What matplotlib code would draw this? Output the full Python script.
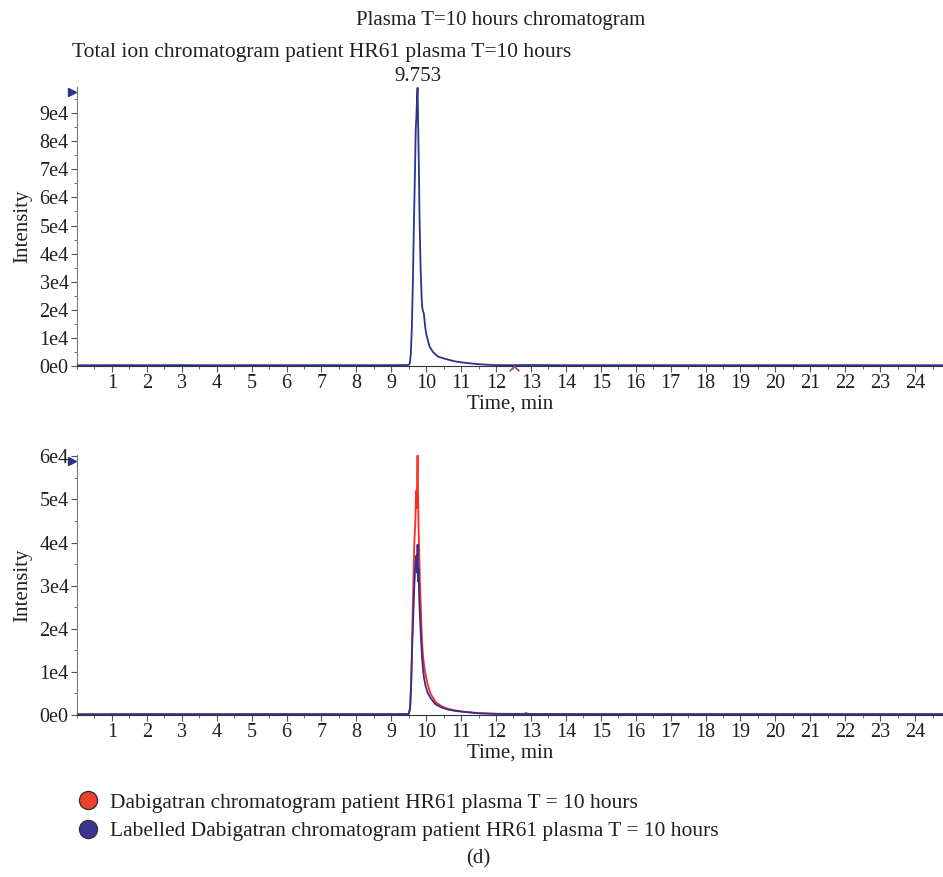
"""Plasma T=10 hours chromatogram, patient HR61 (panel d)."""

import matplotlib

matplotlib.use("Agg")

import matplotlib.pyplot as plt
from matplotlib.lines import Line2D
from matplotlib.path import Path
from matplotlib.ticker import FuncFormatter, MultipleLocator

# Total ion chromatogram (time in min, intensity in counts)
tic_time = [0.0, 1.0, 2.0, 3.0, 4.0, 5.0, 6.0, 7.0, 8.0, 9.0, 9.50, 9.53,
            9.56, 9.59, 9.62, 9.65, 9.68, 9.70, 9.72, 9.74, 9.753, 9.77,
            9.79, 9.81, 9.84, 9.87, 9.89, 9.91, 9.93, 9.95, 9.97, 10.00,
            10.05, 10.10, 10.20, 10.33, 10.50, 10.65, 10.80, 11.00, 11.25,
            11.50, 11.75, 12.00, 12.50, 13.00, 14.0, 16.0, 18.0, 20.0, 22.0,
            24.8]
tic_intensity = [250, 300, 280, 320, 260, 300, 280, 310, 290, 300, 350, 900,
                 4500, 14000, 31000, 52000, 70000, 84000, 89000, 96000, 99000,
                 86000, 71000, 52000, 35000, 24000, 20500, 19500, 18800, 16500,
                 14000, 11500, 9000, 6800, 4900, 3400, 2700, 2200, 1700, 1300,
                 950, 650, 450, 320, 300, 350, 280, 300, 260, 290, 270, 260]

# Dabigatran and labelled Dabigatran extracted chromatograms
dab_time = [0.0, 2.0, 4.0, 6.0, 8.0, 9.0, 9.50, 9.54, 9.57, 9.60, 9.63,
            9.66, 9.69, 9.71, 9.73, 9.745, 9.753, 9.765, 9.78, 9.80, 9.82,
            9.85, 9.88, 9.91, 9.94, 9.98, 10.04, 10.12, 10.28, 10.45, 10.60,
            10.80, 11.04, 11.50, 12.00, 12.80, 12.86, 12.92, 14.0, 18.0,
            22.0, 24.8]
dab_intensity = [150, 200, 180, 210, 190, 200, 250, 1500, 7000, 19000, 30000,
                 40000, 45000, 52000, 48000, 57000, 60200, 52000, 44000,
                 38000, 31000, 24000, 17000, 13500, 11500, 9500, 7200, 5000,
                 2900, 2000, 1500, 1100, 800, 450, 300, 250, 480, 250, 220,
                 200, 180, 190]

lab_time = [0.0, 2.0, 4.0, 6.0, 8.0, 9.0, 9.50, 9.54, 9.57, 9.60, 9.63,
            9.66, 9.69, 9.72, 9.74, 9.753, 9.765, 9.78, 9.80, 9.82, 9.85,
            9.88, 9.91, 9.94, 9.98, 10.04, 10.12, 10.25, 10.40, 10.60,
            10.80, 11.04, 11.50, 12.00, 14.0, 18.0, 22.0, 24.8]
lab_intensity = [150, 180, 160, 190, 170, 180, 230, 1800, 7500, 16000, 23000,
                 30000, 35000, 37000, 33000, 39500, 31000, 34000, 27000,
                 23000, 18000, 13500, 10500, 8500, 6800, 5200, 4000, 2600,
                 1900, 1300, 1000, 750, 380, 250, 200, 180, 170, 180]

x_ticks = list(range(1, 25))
peak_label = "9.753"

BLUE = "#2e3192"
RED = "#ff2a1f"
MAGENTA = "#a03a9c"
FONT = "Liberation Serif"
TEXT_SIZE = 15

plt.rcParams["font.family"] = [FONT, "DejaVu Serif"]
plt.rcParams["font.size"] = TEXT_SIZE
plt.rcParams["text.color"] = "#231f20"
plt.rcParams["axes.labelcolor"] = "#231f20"
plt.rcParams["xtick.color"] = "#555555"
plt.rcParams["ytick.color"] = "#555555"
plt.rcParams["xtick.labelcolor"] = "#231f20"
plt.rcParams["ytick.labelcolor"] = "#231f20"
plt.rcParams["xtick.labelsize"] = 14.5
plt.rcParams["ytick.labelsize"] = 14.5

W, H = 943, 877
fig = plt.figure(figsize=(W / 100, H / 100), dpi=100)


def sci_label(v, _pos):
    if abs(v) < 1:
        return "0e0"
    return f"{int(round(v / 1e4))}e4"


def style_axes(ax, y_top):
    ax.set_xlim(0, 24.8)
    ax.set_ylim(0, y_top)
    for side in ("top", "right"):
        ax.spines[side].set_visible(False)
    ax.spines["left"].set_color("#777777")
    ax.spines["bottom"].set_color("#333333")
    ax.set_xticks(x_ticks)
    ax.xaxis.set_minor_locator(MultipleLocator(0.5))
    ax.yaxis.set_major_locator(MultipleLocator(1e4))
    ax.yaxis.set_minor_locator(MultipleLocator(5e3))
    ax.yaxis.set_major_formatter(FuncFormatter(sci_label))
    ax.tick_params(axis="both", which="major", length=4, width=0.8, pad=2)
    ax.tick_params(axis="both", which="minor", length=2, width=0.6)
    ax.set_ylabel("Intensity", labelpad=5)
    ax.set_xlabel("Time, min", labelpad=1)


# top panel: total ion chromatogram
ax1 = fig.add_axes([77 / W, 1 - 366 / H, 1 - 77 / W, (366 - 87) / H])
ax1.plot(tic_time, tic_intensity, color=BLUE, lw=1.3, zorder=3)
style_axes(ax1, 9.93e4)
ax1.plot([-0.15], [9.75e4], marker=">", ms=6, color=BLUE, clip_on=False)
caret = Path([(-1, -1), (0, 0), (1, -1)], [Path.MOVETO, Path.LINETO, Path.LINETO])
ax1.plot([12.52], [0], marker=caret, ms=7, mew=1.2, mfc="none", mec=MAGENTA,
         clip_on=False, zorder=4)
ax1.text(9.753, 9.93e4 * 1.005, peak_label, ha="center", va="bottom")

# bottom panel: dabigatran + labelled dabigatran
ax2 = fig.add_axes([77 / W, 1 - 715 / H, 1 - 77 / W, (715 - 455) / H])
ax2.plot(dab_time, dab_intensity, color=RED, lw=1.3, zorder=3)
ax2.plot(lab_time, lab_intensity, color=BLUE, lw=1.3, zorder=4)
style_axes(ax2, 6.03e4)
ax2.plot([-0.15], [5.88e4], marker=">", ms=6, color=BLUE, clip_on=False)

fig.text(501 / W, 1 - 21 / H, "Plasma T=10 hours chromatogram",
         ha="center", va="center")
fig.text(72 / W, 1 - 52 / H,
         "Total ion chromatogram patient HR61 plasma T=10 hours",
         ha="left", va="center", fontsize=15.5)

handles = [
    Line2D([], [], ls="none", marker="o", ms=13, mfc="#f0432a", mec="#333333", mew=1),
    Line2D([], [], ls="none", marker="o", ms=13, mfc="#3a3596", mec="#333333", mew=1),
]
labels = [
    "Dabigatran chromatogram patient HR61 plasma T = 10 hours",
    "Labelled Dabigatran chromatogram patient HR61 plasma T = 10 hours",
]
fig.legend(handles, labels, loc="upper left", bbox_to_anchor=(68 / W, 1 - 784 / H),
           frameon=False, handletextpad=0.45, labelspacing=0.4, borderaxespad=0,
           handlelength=1.1, fontsize=15.5)

fig.text(478 / W, 1 - 859 / H, "(d)", ha="center", va="center")

fig.savefig("out.png", dpi=100)
